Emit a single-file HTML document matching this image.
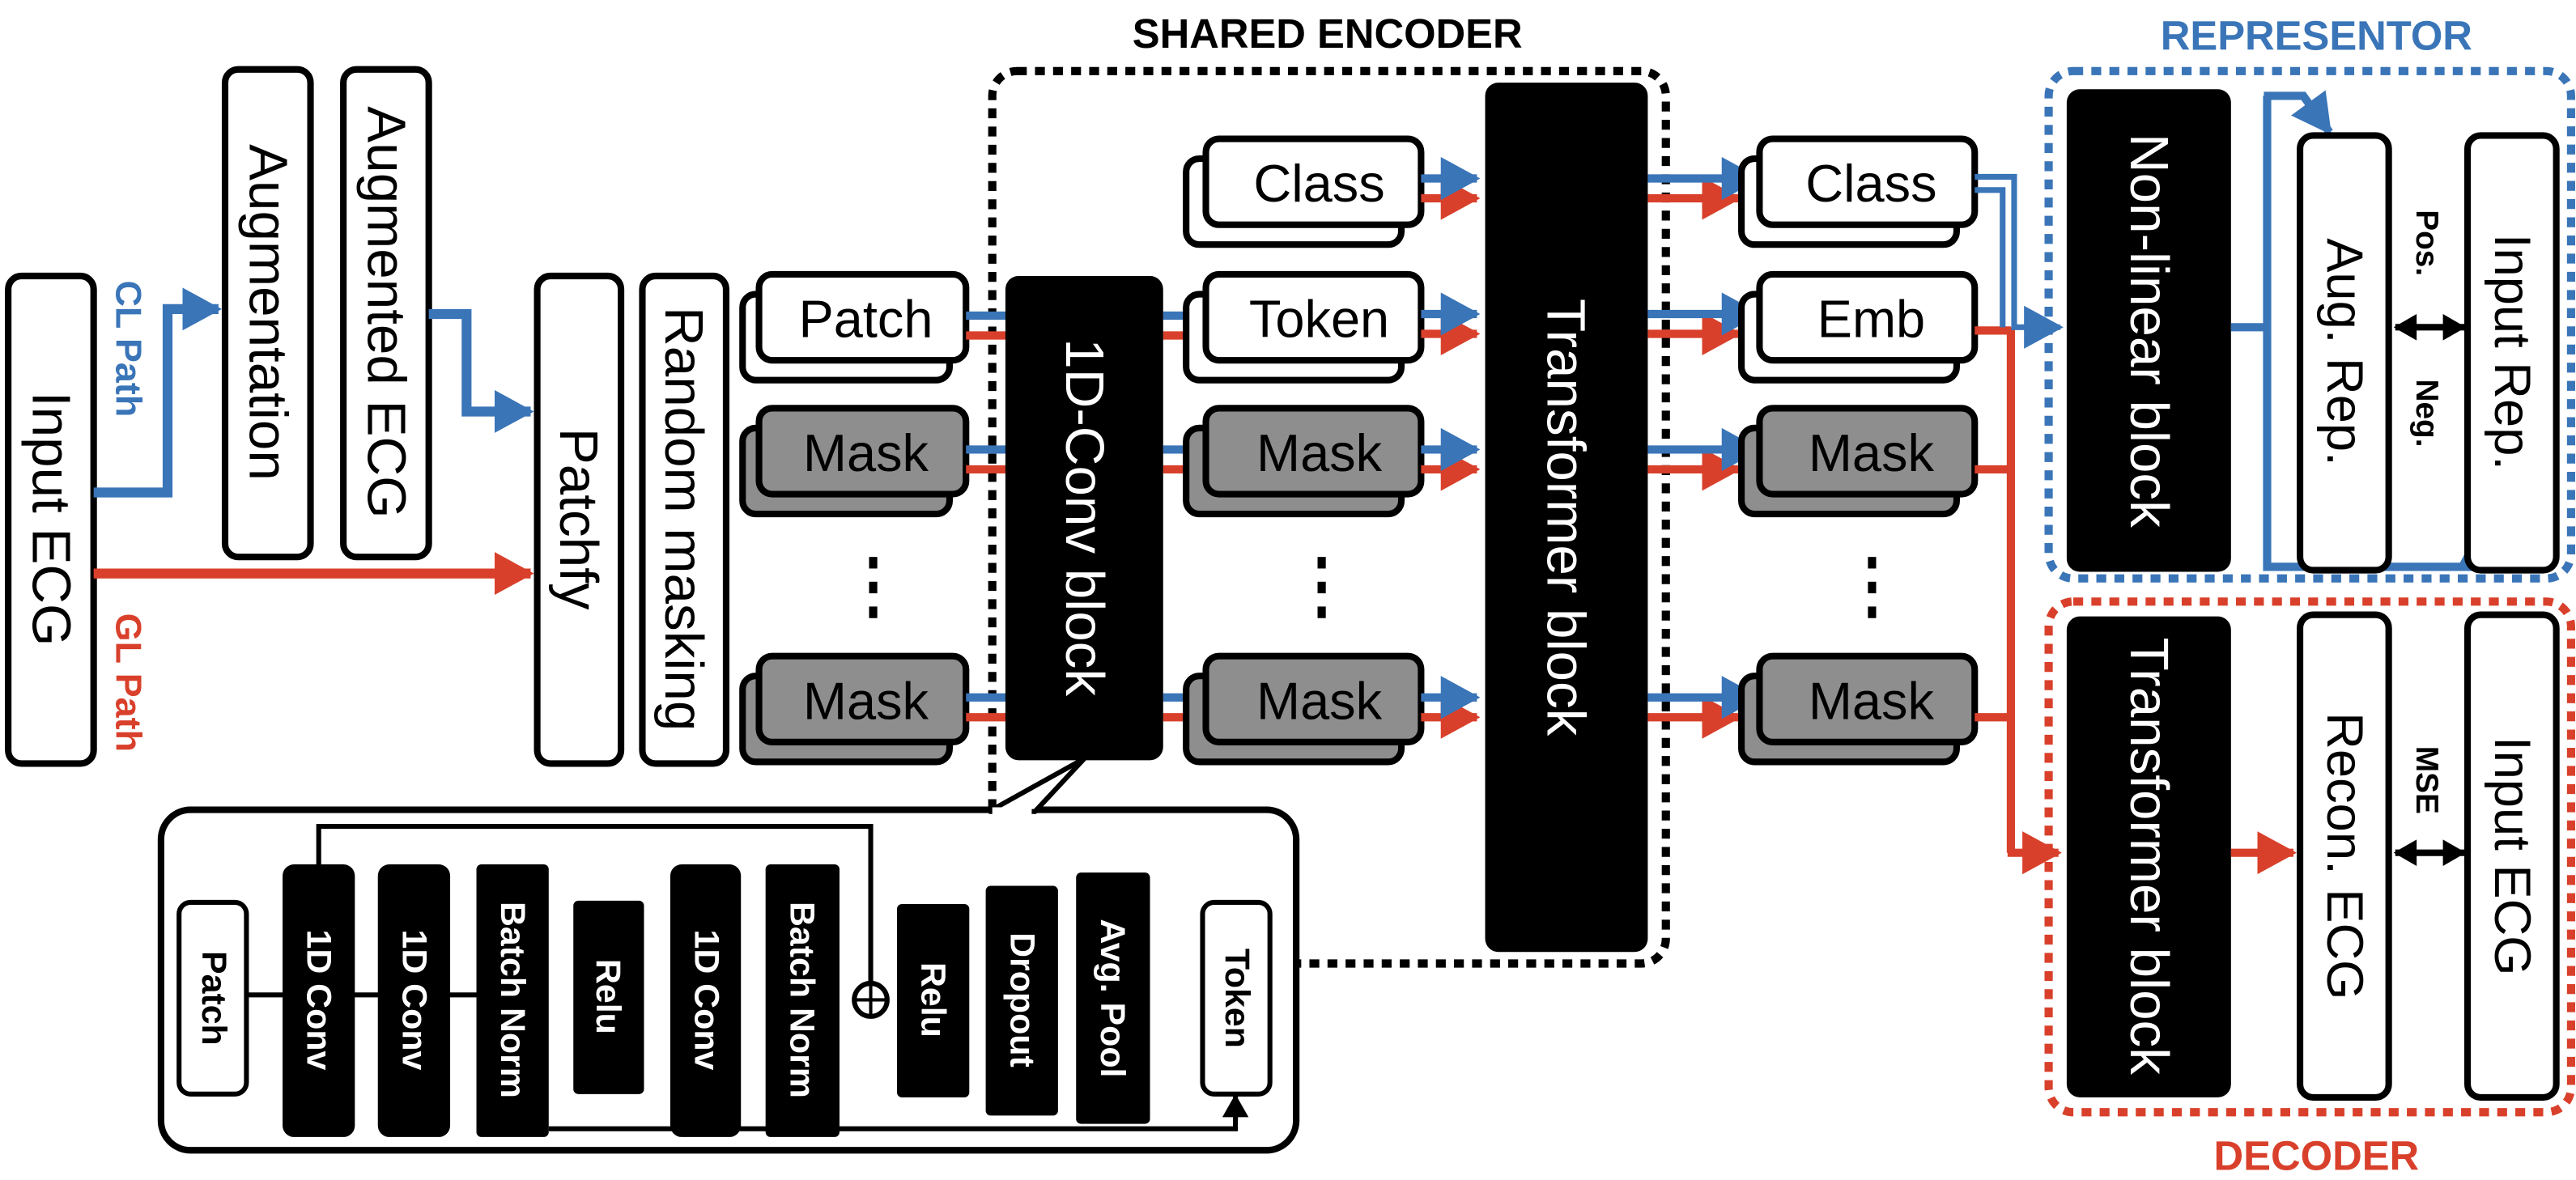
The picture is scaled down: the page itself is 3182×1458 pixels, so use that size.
<!DOCTYPE html>
<html><head><meta charset="utf-8"><style>
html,body{margin:0;padding:0;background:#fff;}
svg{display:block;}
text{font-family:"Liberation Sans",Arial,sans-serif;}
</style></head><body>
<svg width="3182" height="1458" viewBox="0 0 1568 714" preserveAspectRatio="none" xmlns="http://www.w3.org/2000/svg">
<defs>
<marker id="ab" markerUnits="userSpaceOnUse" markerWidth="28" markerHeight="28" refX="22" refY="13" orient="auto"><path d="M0,0 L24,13 L0,26 z" fill="#3a75b8"/></marker>
<marker id="ar" markerUnits="userSpaceOnUse" markerWidth="28" markerHeight="28" refX="22" refY="13" orient="auto"><path d="M0,0 L24,13 L0,26 z" fill="#d9402b"/></marker>
<marker id="ak" markerUnits="userSpaceOnUse" markerWidth="18" markerHeight="18" refX="13" refY="8" orient="auto"><path d="M0,0 L14,8 L0,16 z" fill="#000"/></marker>
<marker id="aks" markerUnits="userSpaceOnUse" markerWidth="18" markerHeight="18" refX="1" refY="8" orient="auto"><path d="M14,0 L0,8 L14,16 z" fill="#000"/></marker>
</defs>
<rect width="1568" height="714" fill="#fff"/>

<!-- left column -->
<rect x="5" y="167" width="52" height="295" rx="8" fill="#fff" stroke="#000" stroke-width="4"/>
<text transform="translate(31,314) rotate(90)" text-anchor="middle" dominant-baseline="central" font-size="33">Input ECG</text>
<text transform="translate(78,211) rotate(90)" text-anchor="middle" dominant-baseline="central" font-size="22" font-weight="bold" fill="#3a75b8">CL Path</text>
<text transform="translate(78,413) rotate(90)" text-anchor="middle" dominant-baseline="central" font-size="22" font-weight="bold" fill="#d9402b">GL Path</text>
<path d="M57 298 H102 V187 H133" fill="none" stroke="#3a75b8" stroke-width="6" marker-end="url(#ab)"/>
<rect x="137" y="42" width="52" height="295" rx="8" fill="#fff" stroke="#000" stroke-width="4"/>
<text transform="translate(163,189) rotate(90)" text-anchor="middle" dominant-baseline="central" font-size="33">Augmentation</text>
<rect x="209" y="42" width="52" height="295" rx="8" fill="#fff" stroke="#000" stroke-width="4"/>
<text transform="translate(235,189) rotate(90)" text-anchor="middle" dominant-baseline="central" font-size="33">Augmented ECG</text>
<path d="M261 190 H284 V249 H323" fill="none" stroke="#3a75b8" stroke-width="6" marker-end="url(#ab)"/>
<path d="M57 347 H323" fill="none" stroke="#d9402b" stroke-width="6" marker-end="url(#ar)"/>
<rect x="327" y="167" width="51" height="295" rx="8" fill="#fff" stroke="#000" stroke-width="4"/>
<text transform="translate(352,314) rotate(90)" text-anchor="middle" dominant-baseline="central" font-size="33">Patchfy</text>
<rect x="391" y="167" width="51" height="295" rx="8" fill="#fff" stroke="#000" stroke-width="4"/>
<text transform="translate(416,314) rotate(90)" text-anchor="middle" dominant-baseline="central" font-size="33">Random masking</text>

<!-- column 1 -->
<g stroke="#000" stroke-width="4">
<rect x="452" y="178" width="126" height="52" rx="8" fill="#fff"/>
<rect x="462" y="166" width="126" height="52" rx="8" fill="#fff"/>
<rect x="452" y="259" width="126" height="52" rx="8" fill="#8e8e8e"/>
<rect x="462" y="247" width="126" height="52" rx="8" fill="#8e8e8e"/>
<rect x="452" y="409" width="126" height="52" rx="8" fill="#8e8e8e"/>
<rect x="462" y="397" width="126" height="52" rx="8" fill="#8e8e8e"/>
</g>
<text x="527" y="204" text-anchor="middle" font-size="32">Patch</text>
<text x="527" y="285" text-anchor="middle" font-size="32">Mask</text>
<text x="527" y="435" text-anchor="middle" font-size="32">Mask</text>
<g fill="#000"><rect x="529" y="337" width="5" height="7"/><rect x="529" y="352" width="5" height="7"/><rect x="529" y="367" width="5" height="7"/></g>

<!-- shared encoder -->
<rect x="604" y="43" width="410" height="540" rx="15" fill="none" stroke="#000" stroke-width="5" stroke-dasharray="6 5"/>
<text x="808" y="29" text-anchor="middle" font-size="25" font-weight="bold">SHARED ENCODER</text>
<g stroke-width="5">
<path d="M588 191 H614 M708 191 H737 M588 272 H614 M708 272 H737 M588 422 H614 M708 422 H737" stroke="#3a75b8"/>
<path d="M588 203 H614 M708 203 H737 M588 284 H614 M708 284 H737 M588 434 H614 M708 434 H737" stroke="#d9402b"/>
</g>
<rect x="612" y="167" width="96" height="293" rx="8" fill="#000"/>
<text transform="translate(660,313) rotate(90)" text-anchor="middle" dominant-baseline="central" font-size="33" fill="#fff">1D-Conv block</text>

<g stroke="#000" stroke-width="4">
<rect x="722" y="96" width="131" height="52" rx="8" fill="#fff"/>
<rect x="734" y="84" width="131" height="52" rx="8" fill="#fff"/>
<rect x="722" y="178" width="131" height="52" rx="8" fill="#fff"/>
<rect x="734" y="166" width="131" height="52" rx="8" fill="#fff"/>
<rect x="722" y="259" width="131" height="52" rx="8" fill="#8e8e8e"/>
<rect x="734" y="247" width="131" height="52" rx="8" fill="#8e8e8e"/>
<rect x="722" y="409" width="131" height="52" rx="8" fill="#8e8e8e"/>
<rect x="734" y="397" width="131" height="52" rx="8" fill="#8e8e8e"/>
</g>
<text x="803" y="122" text-anchor="middle" font-size="32">Class</text>
<text x="803" y="204" text-anchor="middle" font-size="32">Token</text>
<text x="803" y="285" text-anchor="middle" font-size="32">Mask</text>
<text x="803" y="435" text-anchor="middle" font-size="32">Mask</text>
<g fill="#000"><rect x="802" y="337" width="5" height="7"/><rect x="802" y="352" width="5" height="7"/><rect x="802" y="367" width="5" height="7"/></g>

<g stroke-width="5" fill="none">
<path d="M865 120 H899" stroke="#d9402b" marker-end="url(#ar)"/>
<path d="M865 202 H899" stroke="#d9402b" marker-end="url(#ar)"/>
<path d="M865 284 H899" stroke="#d9402b" marker-end="url(#ar)"/>
<path d="M865 434 H899" stroke="#d9402b" marker-end="url(#ar)"/>
<path d="M865 108 H899" stroke="#3a75b8" marker-end="url(#ab)"/>
<path d="M865 190 H899" stroke="#3a75b8" marker-end="url(#ab)"/>
<path d="M865 272 H899" stroke="#3a75b8" marker-end="url(#ab)"/>
<path d="M865 422 H899" stroke="#3a75b8" marker-end="url(#ab)"/>
</g>
<rect x="904" y="50" width="99" height="526" rx="8" fill="#000"/>
<text transform="translate(953,313) rotate(90)" text-anchor="middle" dominant-baseline="central" font-size="33" fill="#fff">Transformer block</text>

<g stroke-width="5" fill="none">
<path d="M1003 120 H1058" stroke="#d9402b" marker-end="url(#ar)"/>
<path d="M1003 202 H1058" stroke="#d9402b" marker-end="url(#ar)"/>
<path d="M1003 284 H1058" stroke="#d9402b" marker-end="url(#ar)"/>
<path d="M1003 434 H1058" stroke="#d9402b" marker-end="url(#ar)"/>
<path d="M1003 108 H1070" stroke="#3a75b8" marker-end="url(#ab)"/>
<path d="M1003 190 H1070" stroke="#3a75b8" marker-end="url(#ab)"/>
<path d="M1003 272 H1070" stroke="#3a75b8" marker-end="url(#ab)"/>
<path d="M1003 422 H1070" stroke="#3a75b8" marker-end="url(#ab)"/>
</g>

<!-- right column -->
<g stroke="#000" stroke-width="4">
<rect x="1060" y="96" width="131" height="52" rx="8" fill="#fff"/>
<rect x="1071" y="84" width="131" height="52" rx="8" fill="#fff"/>
<rect x="1060" y="178" width="131" height="52" rx="8" fill="#fff"/>
<rect x="1071" y="166" width="131" height="52" rx="8" fill="#fff"/>
<rect x="1060" y="259" width="131" height="52" rx="8" fill="#8e8e8e"/>
<rect x="1071" y="247" width="131" height="52" rx="8" fill="#8e8e8e"/>
<rect x="1060" y="409" width="131" height="52" rx="8" fill="#8e8e8e"/>
<rect x="1071" y="397" width="131" height="52" rx="8" fill="#8e8e8e"/>
</g>
<text x="1139" y="122" text-anchor="middle" font-size="32">Class</text>
<text x="1139" y="204" text-anchor="middle" font-size="32">Emb</text>
<text x="1139" y="285" text-anchor="middle" font-size="32">Mask</text>
<text x="1139" y="435" text-anchor="middle" font-size="32">Mask</text>
<g fill="#000"><rect x="1137" y="337" width="5" height="7"/><rect x="1137" y="352" width="5" height="7"/><rect x="1137" y="367" width="5" height="7"/></g>

<path d="M1202 200 H1224 M1202 284 H1224 M1202 434 H1224 M1224 198 V516" fill="none" stroke="#d9402b" stroke-width="5"/>
<path d="M1222 516 H1253" fill="none" stroke="#d9402b" stroke-width="5" marker-end="url(#ar)"/>
<path d="M1202 107 H1226 V198 H1254" fill="none" stroke="#3a75b8" stroke-width="3.5" marker-end="url(#ab)"/>
<path d="M1202 115 H1219 V198" fill="none" stroke="#3a75b8" stroke-width="3.5"/>

<!-- representor -->
<rect x="1247" y="43" width="318" height="307" rx="15" fill="none" stroke="#3a75b8" stroke-width="5" stroke-dasharray="6 5"/>
<text x="1410" y="30" text-anchor="middle" font-size="25" font-weight="bold" fill="#3a75b8">REPRESENTOR</text>
<rect x="1258" y="54" width="100" height="292" rx="8" fill="#000"/>
<text transform="translate(1308,200) rotate(90)" text-anchor="middle" dominant-baseline="central" font-size="33" fill="#fff">Non-linear block</text>
<path d="M1358 198 H1380 M1380 58 V343 H1509" fill="none" stroke="#3a75b8" stroke-width="5"/>
<path d="M1378 58 H1402 L1418 80" fill="none" stroke="#3a75b8" stroke-width="5" marker-end="url(#ab)"/>
<path d="M1509 345 V321" fill="none" stroke="#3a75b8" stroke-width="5" marker-end="url(#ab)"/>
<rect x="1400" y="82" width="54" height="263" rx="8" fill="#fff" stroke="#000" stroke-width="4"/>
<text transform="translate(1427,213) rotate(90)" text-anchor="middle" dominant-baseline="central" font-size="31">Aug. Rep.</text>
<rect x="1502" y="82" width="54" height="263" rx="8" fill="#fff" stroke="#000" stroke-width="4"/>
<text transform="translate(1529,213) rotate(90)" text-anchor="middle" dominant-baseline="central" font-size="31">Input Rep.</text>
<text transform="translate(1477,147) rotate(90)" text-anchor="middle" dominant-baseline="central" font-size="19" font-weight="bold">Pos.</text>
<text transform="translate(1477,250) rotate(90)" text-anchor="middle" dominant-baseline="central" font-size="19" font-weight="bold">Neg.</text>
<path d="M1458 198 H1500" stroke="#000" stroke-width="4" marker-end="url(#ak)" marker-start="url(#aks)"/>

<!-- decoder -->
<rect x="1247" y="364" width="318" height="309" rx="15" fill="none" stroke="#d9402b" stroke-width="5" stroke-dasharray="6 5"/>
<text x="1410" y="708" text-anchor="middle" font-size="25" font-weight="bold" fill="#d9402b">DECODER</text>
<rect x="1258" y="373" width="100" height="291" rx="8" fill="#000"/>
<text transform="translate(1308,518) rotate(90)" text-anchor="middle" dominant-baseline="central" font-size="33" fill="#fff">Transformer block</text>
<path d="M1358 516 H1396" fill="none" stroke="#d9402b" stroke-width="5" marker-end="url(#ar)"/>
<rect x="1400" y="372" width="54" height="292" rx="8" fill="#fff" stroke="#000" stroke-width="4"/>
<text transform="translate(1427,518) rotate(90)" text-anchor="middle" dominant-baseline="central" font-size="31">Recon. ECG</text>
<rect x="1502" y="372" width="54" height="292" rx="8" fill="#fff" stroke="#000" stroke-width="4"/>
<text transform="translate(1529,518) rotate(90)" text-anchor="middle" dominant-baseline="central" font-size="31">Input ECG</text>
<text transform="translate(1477,472) rotate(90)" text-anchor="middle" dominant-baseline="central" font-size="19" font-weight="bold">MSE</text>
<path d="M1458 516 H1500" stroke="#000" stroke-width="4" marker-end="url(#ak)" marker-start="url(#aks)"/>

<!-- inset -->
<rect x="98" y="490" width="691" height="206" rx="18" fill="#fff" stroke="#000" stroke-width="4"/>
<polygon points="602,491 660,459 630,491" fill="#fff" stroke="#000" stroke-width="3"/>
<line x1="604" y1="491" x2="628" y2="491" stroke="#fff" stroke-width="5"/>
<path d="M194 523 V500 H530 V594" fill="none" stroke="#000" stroke-width="3"/>
<path d="M150 602 H290" stroke="#000" stroke-width="3"/>
<path d="M334 683 H752 V672" fill="none" stroke="#000" stroke-width="3"/>
<path d="M752 678 V663" stroke="#000" stroke-width="3" marker-end="url(#ak)"/>
<circle cx="530" cy="605" r="10" fill="#fff" stroke="#000" stroke-width="3"/>
<path d="M520 605 H540 M530 595 V615" stroke="#000" stroke-width="2"/>
<rect x="109" y="546" width="41" height="116" rx="7" fill="#fff" stroke="#000" stroke-width="3"/>
<text transform="translate(130,604) rotate(90)" text-anchor="middle" dominant-baseline="central" font-size="21" font-weight="bold">Patch</text>
<g fill="#000">
<rect x="172" y="523" width="44" height="165" rx="7"/>
<rect x="230" y="523" width="44" height="165" rx="7"/>
<rect x="290" y="523" width="44" height="165" rx="3"/>
<rect x="349" y="545" width="43" height="117" rx="3"/>
<rect x="408" y="523" width="43" height="165" rx="7"/>
<rect x="466" y="523" width="45" height="165" rx="3"/>
<rect x="546" y="547" width="44" height="117" rx="3"/>
<rect x="600" y="536" width="44" height="139" rx="3"/>
<rect x="655" y="528" width="45" height="152" rx="3"/>
</g>
<g fill="#fff" font-size="21" font-weight="bold" text-anchor="middle" dominant-baseline="central">
<text transform="translate(194,605) rotate(90)">1D Conv</text>
<text transform="translate(252,605) rotate(90)">1D Conv</text>
<text transform="translate(312,605) rotate(90)">Batch Norm</text>
<text transform="translate(370,603) rotate(90)">Relu</text>
<text transform="translate(430,605) rotate(90)">1D Conv</text>
<text transform="translate(488,605) rotate(90)">Batch Norm</text>
<text transform="translate(568,605) rotate(90)">Relu</text>
<text transform="translate(622,605) rotate(90)">Dropout</text>
<text transform="translate(677,604) rotate(90)">Avg. Pool</text>
</g>
<rect x="732" y="546" width="41" height="116" rx="7" fill="#fff" stroke="#000" stroke-width="3"/>
<text transform="translate(753,604) rotate(90)" text-anchor="middle" dominant-baseline="central" font-size="21" font-weight="bold">Token</text>
</svg>
</body></html>
